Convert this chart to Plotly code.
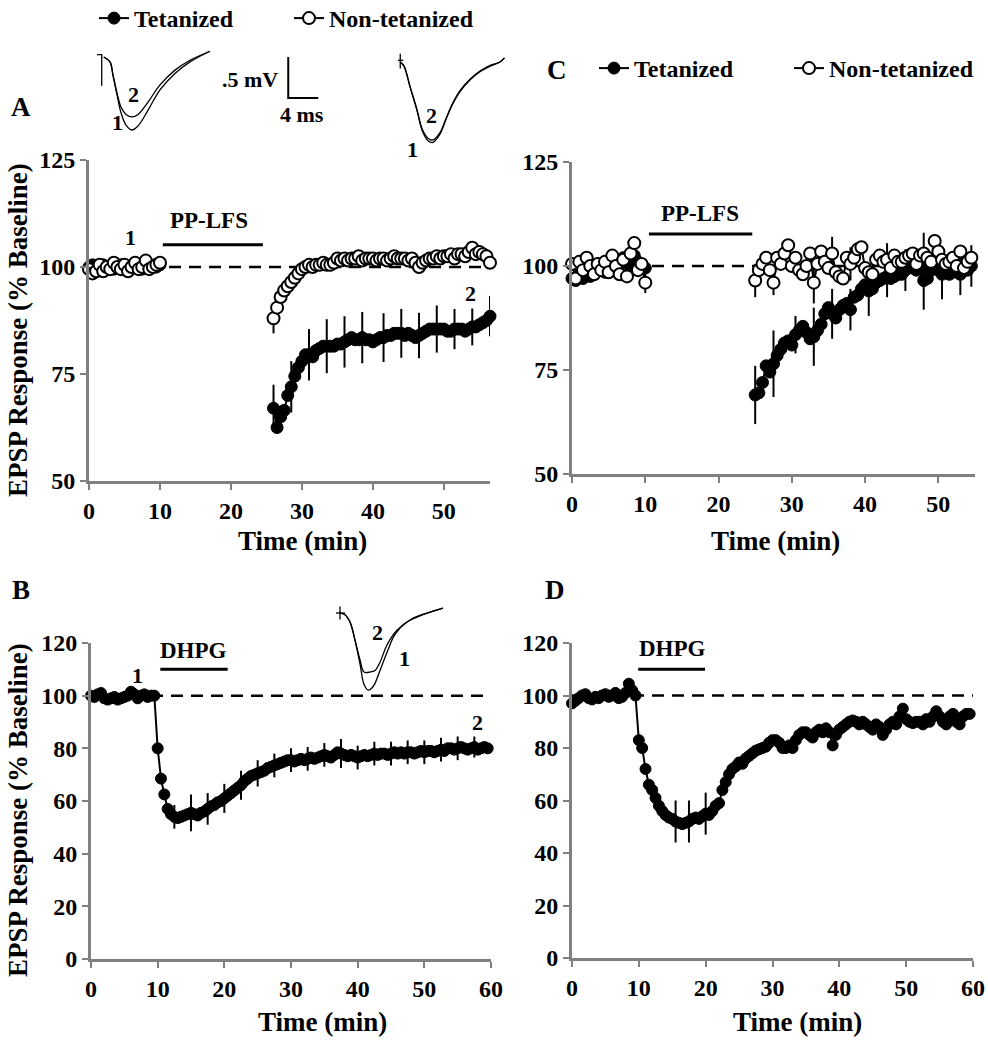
import plotly.graph_objects as go

FONT = "Liberation Serif"
BLACK = "#000000"
GRAY = "#808080"

# ---------------- data: panel A (PP-LFS, tetanized vs non-tetanized) ----------------
t_base = [0, 0.5, 1, 1.5, 2, 2.5, 3, 3.5, 4, 4.5, 5, 5.5, 6, 6.5, 7, 7.5, 8, 8.5, 9, 9.5, 10]
A_tet_base = [100, 100.5, 99.5, 100, 100.5, 99.5, 100, 99.5, 100, 100.5, 100, 99.5, 100, 100.5, 100, 99.5, 100, 100.5, 100, 100, 100.5]
A_non_base = [99.5, 98.5, 99, 100.5, 99, 100, 99.5, 101, 100, 99.5, 100.5, 99, 100, 101, 99.5, 100, 101.5, 99.5, 100, 100.5, 101]
tA_post = [26, 26.5, 27, 27.5, 28, 28.5, 29, 29.5, 30, 30.5, 31, 31.5, 32, 32.5, 33, 33.5, 34, 34.5, 35, 35.5,
           36, 36.5, 37, 37.5, 38, 38.5, 39, 39.5, 40, 40.5, 41, 41.5, 42, 42.5, 43, 43.5, 44, 44.5, 45, 45.5,
           46, 46.5, 47, 47.5, 48, 48.5, 49, 49.5, 50, 50.5, 51, 51.5, 52, 52.5, 53, 53.5, 54, 54.5, 55, 55.5, 56, 56.5]
A_tet_post = [67, 62.5, 65, 66.5, 70, 72, 74.5, 76.5, 78, 79.5,
              79.5, 79, 80.5, 81, 81.5, 81.5, 81.5, 81.5, 82, 82,
              82.5, 83, 83.5, 83, 83, 83.5, 83, 83, 82.5, 83,
              83.5, 83.5, 84, 84, 84.5, 84.5, 84.5, 84, 84.5, 84,
              83.5, 84, 84.5, 85, 85.5, 85.5, 85.5, 85.5, 85.5, 85,
              85, 85.5, 85.5, 85.5, 85, 85.5, 86, 86, 86.5, 87,
              87.5, 88.5]
A_non_post = [88, 90.5, 93, 94.5, 95.5, 96.5, 97.5, 98.5, 99.5, 100,
              100.5, 100, 100.5, 100.5, 101, 100.5, 100.5, 101, 102, 101.5,
              102, 101.5, 102, 102, 102.5, 101.5, 102, 102, 102, 101.5,
              102, 102, 101.5, 102, 102.5, 102, 102, 102, 101.5, 102,
              101, 100, 101, 101.5, 102, 102, 102.5, 102, 102.5, 102.5,
              103, 102, 103, 103, 102.5, 103.5, 104.5, 103, 103.5, 103,
              102.5, 101]
A_tet_err_t = [26, 28.5, 31, 33.5, 36, 38.5, 41.5, 44, 46.5, 49, 51.5, 54, 56.5]
A_tet_err_v = [5.5, 6, 6, 6.3, 6, 6, 5.7, 5.7, 5.3, 5.5, 4.7, 4.3, 4.7]
A_non_err_t = [26]
A_non_err_v = [3.5]

# ---------------- data: panel C ----------------
C_tet_base = [97, 96.5, 98, 97, 99, 97.5, 98.5, 100, 99, 98.5, 100, 99, 101, 100.5, 102, 101, 100, 102.5, 101, 100, 99.5]
C_non_base = [100.5, 97, 101, 99, 102, 100, 98, 100.5, 99, 101, 98.5, 102.5, 100, 98, 101.5, 97.5, 103, 105.5, 99, 100.5, 96]
tC_post = [25, 25.5, 26, 26.5, 27, 27.5, 28, 28.5, 29, 29.5, 30, 30.5, 31, 31.5, 32, 32.5, 33, 33.5, 34, 34.5,
           35, 35.5, 36, 36.5, 37, 37.5, 38, 38.5, 39, 39.5, 40, 40.5, 41, 41.5, 42, 42.5, 43, 43.5, 44, 44.5,
           45, 45.5, 46, 46.5, 47, 47.5, 48, 48.5, 49, 49.5, 50, 50.5, 51, 51.5, 52, 52.5, 53, 53.5, 54, 54.5]
C_tet_post = [69, 69.5, 72, 76, 74.5, 76.5, 78.5, 80, 81.5, 82,
              81, 83.5, 84.5, 85.5, 84, 82.5, 83, 84.5, 86, 88.5,
              90, 88.5, 87.5, 89.5, 90.5, 91, 89.5, 92.5, 93, 94.5,
              95.5, 94, 94.5, 96, 96.5, 97, 97.5, 97, 97.5, 98,
              98, 99, 100, 99.5, 99, 99.5, 96.5, 97, 99, 99.5,
              99, 98, 98.5, 98, 99, 98.5, 98, 99.5, 99, 100]
C_non_post = [96.5, 99, 100.5, 102, 99, 96, 102, 100.5, 103, 105,
              100, 102, 99, 98, 100, 103, 96, 100.5, 103.5, 101,
              99.5, 103, 98.5, 97.5, 97, 102, 100.5, 102, 104, 104.5,
              99.5, 98.5, 98, 101.5, 102.5, 101, 101.5, 99.5, 102.5, 101,
              101, 102, 102.5, 103, 100.5, 102.5, 103, 102, 101, 106,
              103.5, 101.5, 100.5, 101, 102, 100, 103.5, 99.5, 101, 102]
C_tet_err_t = [25, 27.5, 30.5, 33, 35.5, 38, 40.5, 43, 45.5, 48, 50.5, 53, 54.5]
C_tet_err_v = [7, 8, 4.5, 7, 6, 5, 6, 5, 5, 7, 6, 5, 5]
C_non_err_t = [10, 25, 27.5, 33, 35.5, 38, 43, 48]
C_non_err_v = [2.5, 4, 3, 5, 4, 4, 4, 5]

# ---------------- data: panels B and D (DHPG) ----------------
t_BD = [0, 0.5, 1, 1.5, 2, 2.5, 3, 3.5, 4, 4.5, 5, 5.5, 6, 6.5, 7, 7.5, 8, 8.5, 9, 9.5,
        10, 10.5, 11, 11.5, 12, 12.5, 13, 13.5, 14, 14.5, 15, 15.5, 16, 16.5, 17, 17.5, 18, 18.5, 19, 19.5,
        20, 20.5, 21, 21.5, 22, 22.5, 23, 23.5, 24, 24.5, 25, 25.5, 26, 26.5, 27, 27.5, 28, 28.5, 29, 29.5,
        30, 30.5, 31, 31.5, 32, 32.5, 33, 33.5, 34, 34.5, 35, 35.5, 36, 36.5, 37, 37.5, 38, 38.5, 39, 39.5,
        40, 40.5, 41, 41.5, 42, 42.5, 43, 43.5, 44, 44.5, 45, 45.5, 46, 46.5, 47, 47.5, 48, 48.5, 49, 49.5,
        50, 50.5, 51, 51.5, 52, 52.5, 53, 53.5, 54, 54.5, 55, 55.5, 56, 56.5, 57, 57.5, 58, 58.5, 59, 59.5]
B_vals = [100, 99.5, 100.5, 101, 99, 98.5, 99, 99.5, 98.5, 99,
          99.5, 100, 101.5, 100.5, 99, 100, 100.5, 99.5, 100, 100,
          80, 68.5, 62.5, 57, 55, 54, 53.5, 54, 54.5, 55,
          55.5, 55, 54.5, 55.5, 56, 57, 58, 58.5, 59.5, 60,
          61, 62, 63, 64, 65, 66, 67.5, 68.5, 69.5, 70,
          70.5, 71, 71.5, 72.5, 73, 73.5, 74, 74.5, 75, 75.5,
          75.5, 75, 75.5, 76, 75.5, 76, 76.5, 76, 76.5, 77,
          77.5, 77, 76.5, 77.5, 78.5, 78, 77.5, 77, 77.5, 77,
          76.5, 77, 77.5, 77, 77.5, 78, 77.5, 78, 78, 77.5,
          78, 78.5, 78, 78.5, 78, 78.5, 78.5, 78, 78.5, 79,
          78.5, 79, 79, 78.5, 79, 79.5, 79, 80, 80, 79.5,
          80, 80.5, 80, 79.5, 80, 80.5, 79.5, 80, 80.5, 80]
B_err_t = [12.5, 15, 17.5, 20, 22.5, 25, 27.5, 30, 32.5, 35, 37.5, 40, 42.5, 45, 47.5, 50, 52.5, 55, 57.5]
B_err_v = [4.5, 7, 6, 5.5, 5.5, 5, 4.5, 4.5, 4.5, 4.5, 5.5, 4.5, 4.5, 4.5, 4.5, 4.5, 4.5, 4.5, 4]
D_vals = [97, 98, 99, 100, 100.5, 99, 98.5, 99.5, 99, 100,
          100.5, 99.5, 100, 101, 99, 99.5, 101, 104.5, 102, 100,
          83, 80, 72, 66, 64, 61, 58, 56, 54.5, 53.5,
          53, 52, 51.5, 51, 51.5, 52, 53, 53.5, 53, 54,
          55, 54.5, 56, 58, 59, 64, 67, 70, 72, 73,
          74.5, 74, 76, 77, 78, 79, 79.5, 80, 80.5, 82,
          83, 83, 82, 80, 80, 81, 80, 83, 85, 86,
          86, 85, 84, 86, 87, 86, 87.5, 86, 81, 85,
          87, 88, 89, 90, 90.5, 90, 89, 90, 89, 88,
          87, 89, 88, 85, 87, 89, 90, 89, 92, 95,
          91, 90, 89.5, 90, 90, 89, 91, 90, 92, 94,
          92, 90, 89, 92, 93, 90, 89, 92, 93, 93]
D_err_t = [15.5, 17.5, 20]
D_err_v = [8, 8, 8]

# stimulation bars (min) and their y level
A_stim = [10.4, 24.5, 105.2]
C_stim = [10.5, 24.6, 107.7]
B_stim = [10.4, 20.5, 110]
D_stim = [9.9, 19.9, 110]

# ---------------- inset EPSP traces (ms, mV) ----------------
ins1_t = [0.9, 1.73, 2.13, 2.67, 3.2, 3.87, 4.67, 5.47, 6.8, 8.4, 10.4, 12.4, 15.07]
ins1_tr1 = [0, -0.06, -0.22, -0.46, -0.68, -0.83, -0.89, -0.84, -0.65, -0.40, -0.20, -0.06, 0.07]
ins1_tr2 = [0, -0.06, -0.22, -0.44, -0.61, -0.70, -0.73, -0.70, -0.55, -0.34, -0.16, -0.04, 0.07]
ins1_art_t = [0, 0.63, 0.63]
ins1_art_v = [0.03, 0.03, -0.35]
scale_x0, scale_ms, scale_mv = 25.5, 4, 0.5

ins2_t = [0.3, 0.8, 1.6, 2.53, 3.2, 4.0, 4.67, 5.6, 6.4, 7.2, 8.27, 9.6, 10.93, 12.3, 13.6, 14.2]
ins2_tr1 = [0, -0.05, -0.30, -0.59, -0.83, -0.96, -0.98, -0.88, -0.70, -0.53, -0.36, -0.22, -0.12, -0.05, 0, 0.05]
ins2_tr2 = [0, -0.05, -0.30, -0.58, -0.81, -0.93, -0.95, -0.86, -0.69, -0.52, -0.35, -0.21, -0.11, -0.04, 0, 0.05]

ins3_t1 = [0.53, 1.2, 1.87, 2.53, 3.2, 3.73, 4.27, 5.0, 5.87, 6.93, 7.87, 9.47, 11.6, 14.27]
ins3_tr1 = [0, -0.02, -0.11, -0.33, -0.62, -0.87, -0.94, -0.89, -0.70, -0.45, -0.26, -0.11, -0.02, 0.06]
ins3_t2 = [0.53, 1.2, 1.87, 2.53, 3.2, 3.73, 4.53, 5.2, 5.87, 6.8, 8.13, 10.13, 12.13, 14.27]
ins3_tr2 = [0, -0.02, -0.11, -0.33, -0.57, -0.72, -0.72, -0.70, -0.60, -0.39, -0.21, -0.07, 0, 0.06]


def join(t1, v1, t2, v2):
    return t1 + [None] + t2, v1 + [None] + v2


def err_full(times, et, ev):
    d = dict(zip(et, ev))
    return [d.get(t, 0) for t in times]


def err_join(t1, t2, et, ev):
    return err_full(t1, et, ev) + [0] + err_full(t2, et, ev)


fig = go.Figure()

filled = dict(symbol="circle", color=BLACK, size=12, line=dict(color=BLACK, width=1))
opened = dict(symbol="circle", color="white", size=12, line=dict(color=BLACK, width=2))


def series(xax, yax, x, y, err, marker, name, legend, show, lw=2):
    fig.add_trace(go.Scatter(
        x=x, y=y, mode="lines+markers", name=name, xaxis=xax, yaxis=yax,
        marker=marker, line=dict(color=BLACK, width=lw),
        error_y=dict(type="data", array=err, visible=True, color=BLACK, thickness=2, width=0),
        cliponaxis=False, showlegend=show, legend=legend))


# Panel A
x, y = join(t_base, A_tet_base, tA_post, A_tet_post)
series("x", "y", x, y, err_join(t_base, tA_post, A_tet_err_t, A_tet_err_v), filled,
       "<b>Tetanized</b>", "legend", True)
x, y = join(t_base, A_non_base, tA_post, A_non_post)
series("x", "y", x, y, err_join(t_base, tA_post, A_non_err_t, A_non_err_v), opened,
       "<b>Non-tetanized</b>", "legend", True)
# Panel C
x, y = join(t_base, C_tet_base, tC_post, C_tet_post)
series("x2", "y2", x, y, err_join(t_base, tC_post, C_tet_err_t, C_tet_err_v), filled,
       "<b>Tetanized</b>", "legend2", True)
x, y = join(t_base, C_non_base, tC_post, C_non_post)
series("x2", "y2", x, y, err_join(t_base, tC_post, C_non_err_t, C_non_err_v), opened,
       "<b>Non-tetanized</b>", "legend2", True)
# Panel B and D
series("x3", "y3", t_BD, B_vals, err_full(t_BD, B_err_t, B_err_v), dict(filled, size=11),
       "B", "legend", False)
series("x4", "y4", t_BD, D_vals, err_full(t_BD, D_err_t, D_err_v), dict(filled, size=11),
       "D", "legend", False)


def trace_line(xax, yax, x, y, shape="spline", w=1.3):
    fig.add_trace(go.Scatter(x=x, y=y, mode="lines", xaxis=xax, yaxis=yax, showlegend=False,
                             line=dict(color=BLACK, width=w, shape=shape), hoverinfo="skip",
                             cliponaxis=False))


# inset 1 (panel A, tetanized)
trace_line("x5", "y5", ins1_t, ins1_tr1)
trace_line("x5", "y5", ins1_t, ins1_tr2)
trace_line("x5", "y5", ins1_art_t, ins1_art_v, "linear")
trace_line("x5", "y5", [scale_x0, scale_x0, scale_x0 + scale_ms], [0, -scale_mv, -scale_mv], "linear", 2)
# inset 2 (panel A, non-tetanized)
trace_line("x6", "y6", ins2_t, ins2_tr1)
trace_line("x6", "y6", ins2_t, ins2_tr2)
trace_line("x6", "y6", [0, 0.7], [0.02, 0.02], "linear")
trace_line("x6", "y6", [0.3, 0.3], [0.1, -0.08], "linear")
# inset 3 (panel B)
trace_line("x7", "y7", ins3_t1, ins3_tr1)
trace_line("x7", "y7", ins3_t2, ins3_tr2)
trace_line("x7", "y7", [-0.2, 1.2], [0, 0], "linear")
trace_line("x7", "y7", [0.53, 0.53], [0.08, -0.08], "linear")

W, H = 988, 1050


def px_x(p):
    return p / W


def px_y(p):
    return 1 - p / H


tickfont = dict(family=FONT, size=24, color=BLACK, weight="bold")


def axis(domain, rng, tickvals, anchor):
    return dict(domain=domain, range=rng, tickmode="array", tickvals=tickvals,
                ticks="outside", ticklen=6, tickwidth=2, tickcolor=GRAY,
                showline=True, linecolor=GRAY, linewidth=3, showgrid=False, zeroline=False,
                tickfont=tickfont, anchor=anchor, fixedrange=True, automargin=False)


hidden = dict(visible=False, fixedrange=True)

layout = dict(
    width=W, height=H, margin=dict(l=0, r=0, t=0, b=0, autoexpand=False),
    paper_bgcolor="white", plot_bgcolor="rgba(0,0,0,0)",
    xaxis=axis([px_x(89), px_x(490)], [0, 56.5], [0, 10, 20, 30, 40, 50], "y"),
    yaxis=axis([px_y(481), px_y(160)], [50, 125], [50, 75, 100, 125], "x"),
    xaxis2=axis([px_x(572), px_x(975)], [0, 55], [0, 10, 20, 30, 40, 50], "y2"),
    yaxis2=axis([px_y(474), px_y(162)], [50, 125], [50, 75, 100, 125], "x2"),
    xaxis3=axis([px_x(91), px_x(491)], [0, 60], [0, 10, 20, 30, 40, 50, 60], "y3"),
    yaxis3=axis([px_y(959), px_y(643)], [0, 120], [0, 20, 40, 60, 80, 100, 120], "x3"),
    xaxis4=axis([px_x(572), px_x(973)], [0, 60], [0, 10, 20, 30, 40, 50, 60], "y4"),
    yaxis4=axis([px_y(958), px_y(643)], [0, 120], [0, 20, 40, 60, 80, 100, 120], "x4"),
    xaxis5=dict(hidden, domain=[px_x(97), px_x(322)], range=[0, 30], anchor="y5"),
    yaxis5=dict(hidden, domain=[px_y(135), px_y(50)], range=[-0.951, 0.0854], anchor="x5"),
    xaxis6=dict(hidden, domain=[px_x(398), px_x(508)], range=[0, 14.67], anchor="y6"),
    yaxis6=dict(hidden, domain=[px_y(160), px_y(40)], range=[-1.195, 0.268], anchor="x6"),
    xaxis7=dict(hidden, domain=[px_x(336), px_x(446)], range=[0, 14.67], anchor="y7"),
    yaxis7=dict(hidden, domain=[px_y(700), px_y(600)], range=[-1.061, 0.159], anchor="x7"),
    legend=dict(orientation="h", x=px_x(94), y=px_y(-4), xanchor="left", yanchor="top",
                font=dict(family=FONT, size=24, color=BLACK), bgcolor="rgba(0,0,0,0)",
                entrywidth=150, entrywidthmode="pixels", itemclick=False, itemdoubleclick=False),
    legend2=dict(orientation="h", x=px_x(594), y=px_y(46), xanchor="left", yanchor="top",
                 font=dict(family=FONT, size=24, color=BLACK), bgcolor="rgba(0,0,0,0)",
                 entrywidth=150, entrywidthmode="pixels", itemclick=False, itemdoubleclick=False),
)
fig.update_layout(**layout)

# baseline dashed lines and stimulation bars
for xr, yr, xmax in [("x", "y", 56.5), ("x2", "y2", 55), ("x3", "y3", 60), ("x4", "y4", 60)]:
    fig.add_shape(type="line", xref=xr, yref=yr, x0=0, x1=xmax, y0=100, y1=100,
                  line=dict(color=BLACK, width=2.5, dash="12px,8px"), layer="below")
for xr, yr, st in [("x", "y", A_stim), ("x2", "y2", C_stim), ("x3", "y3", B_stim), ("x4", "y4", D_stim)]:
    fig.add_shape(type="line", xref=xr, yref=yr, x0=st[0], x1=st[1], y0=st[2], y1=st[2],
                  line=dict(color=BLACK, width=3))

bold = lambda s: dict(family=FONT, size=s, color=BLACK, weight="bold")


def note(text, x, y, xref, yref, size=23, xanchor="center", **kw):
    fig.add_annotation(text=text, x=x, y=y, xref=xref, yref=yref, showarrow=False,
                       font=bold(size), xanchor=xanchor, yanchor="middle", **kw)


# stimulus labels
note("PP-LFS", 16.9, 110.8, "x", "y", 23)
note("PP-LFS", 17.5, 112.7, "x2", "y2", 23)
note("DHPG", 15.3, 117, "x3", "y3", 23)
note("DHPG", 15.0, 118, "x4", "y4", 23)
# time-point labels
note("1", 5.9, 107, "x", "y", 22)
note("2", 53.7, 93.7, "x", "y", 22)
note("1", 6.9, 107.5, "x3", "y3", 22)
note("2", 58, 90, "x3", "y3", 22)
# inset labels
note("2", 4.8, -0.46, "x5", "y5", 22)
note("1", 2.67, -0.80, "x5", "y5", 22)
note(".5 mV", 24.4, -0.28, "x5", "y5", 22, xanchor="right")
note("4 ms", 27.3, -0.70, "x5", "y5", 22)
note("2", 4.53, -0.65, "x6", "y6", 22)
note("1", 1.87, -1.07, "x6", "y6", 22)
note("2", 5.6, -0.24, "x7", "y7", 22)
note("1", 9.2, -0.55, "x7", "y7", 22)
# panel letters
note("A", px_x(21), px_y(107), "paper", "paper", 27)
note("B", px_x(21), px_y(590), "paper", "paper", 27)
note("C", px_x(557), px_y(70), "paper", "paper", 27)
note("D", px_x(555), px_y(590), "paper", "paper", 27)
# axis titles
for cx, cy in [(302, 541), (775, 541), (322, 1022), (797, 1022)]:
    note("Time (min)", px_x(cx), px_y(cy), "paper", "paper", 27)
for cy in [330, 810]:
    note("EPSP Response (% Baseline)", px_x(18), px_y(cy), "paper", "paper", 27, textangle=-90)

fig.write_html("out.html", config={"displayModeBar": False},
               post_script="document.body.style.margin='0';")
